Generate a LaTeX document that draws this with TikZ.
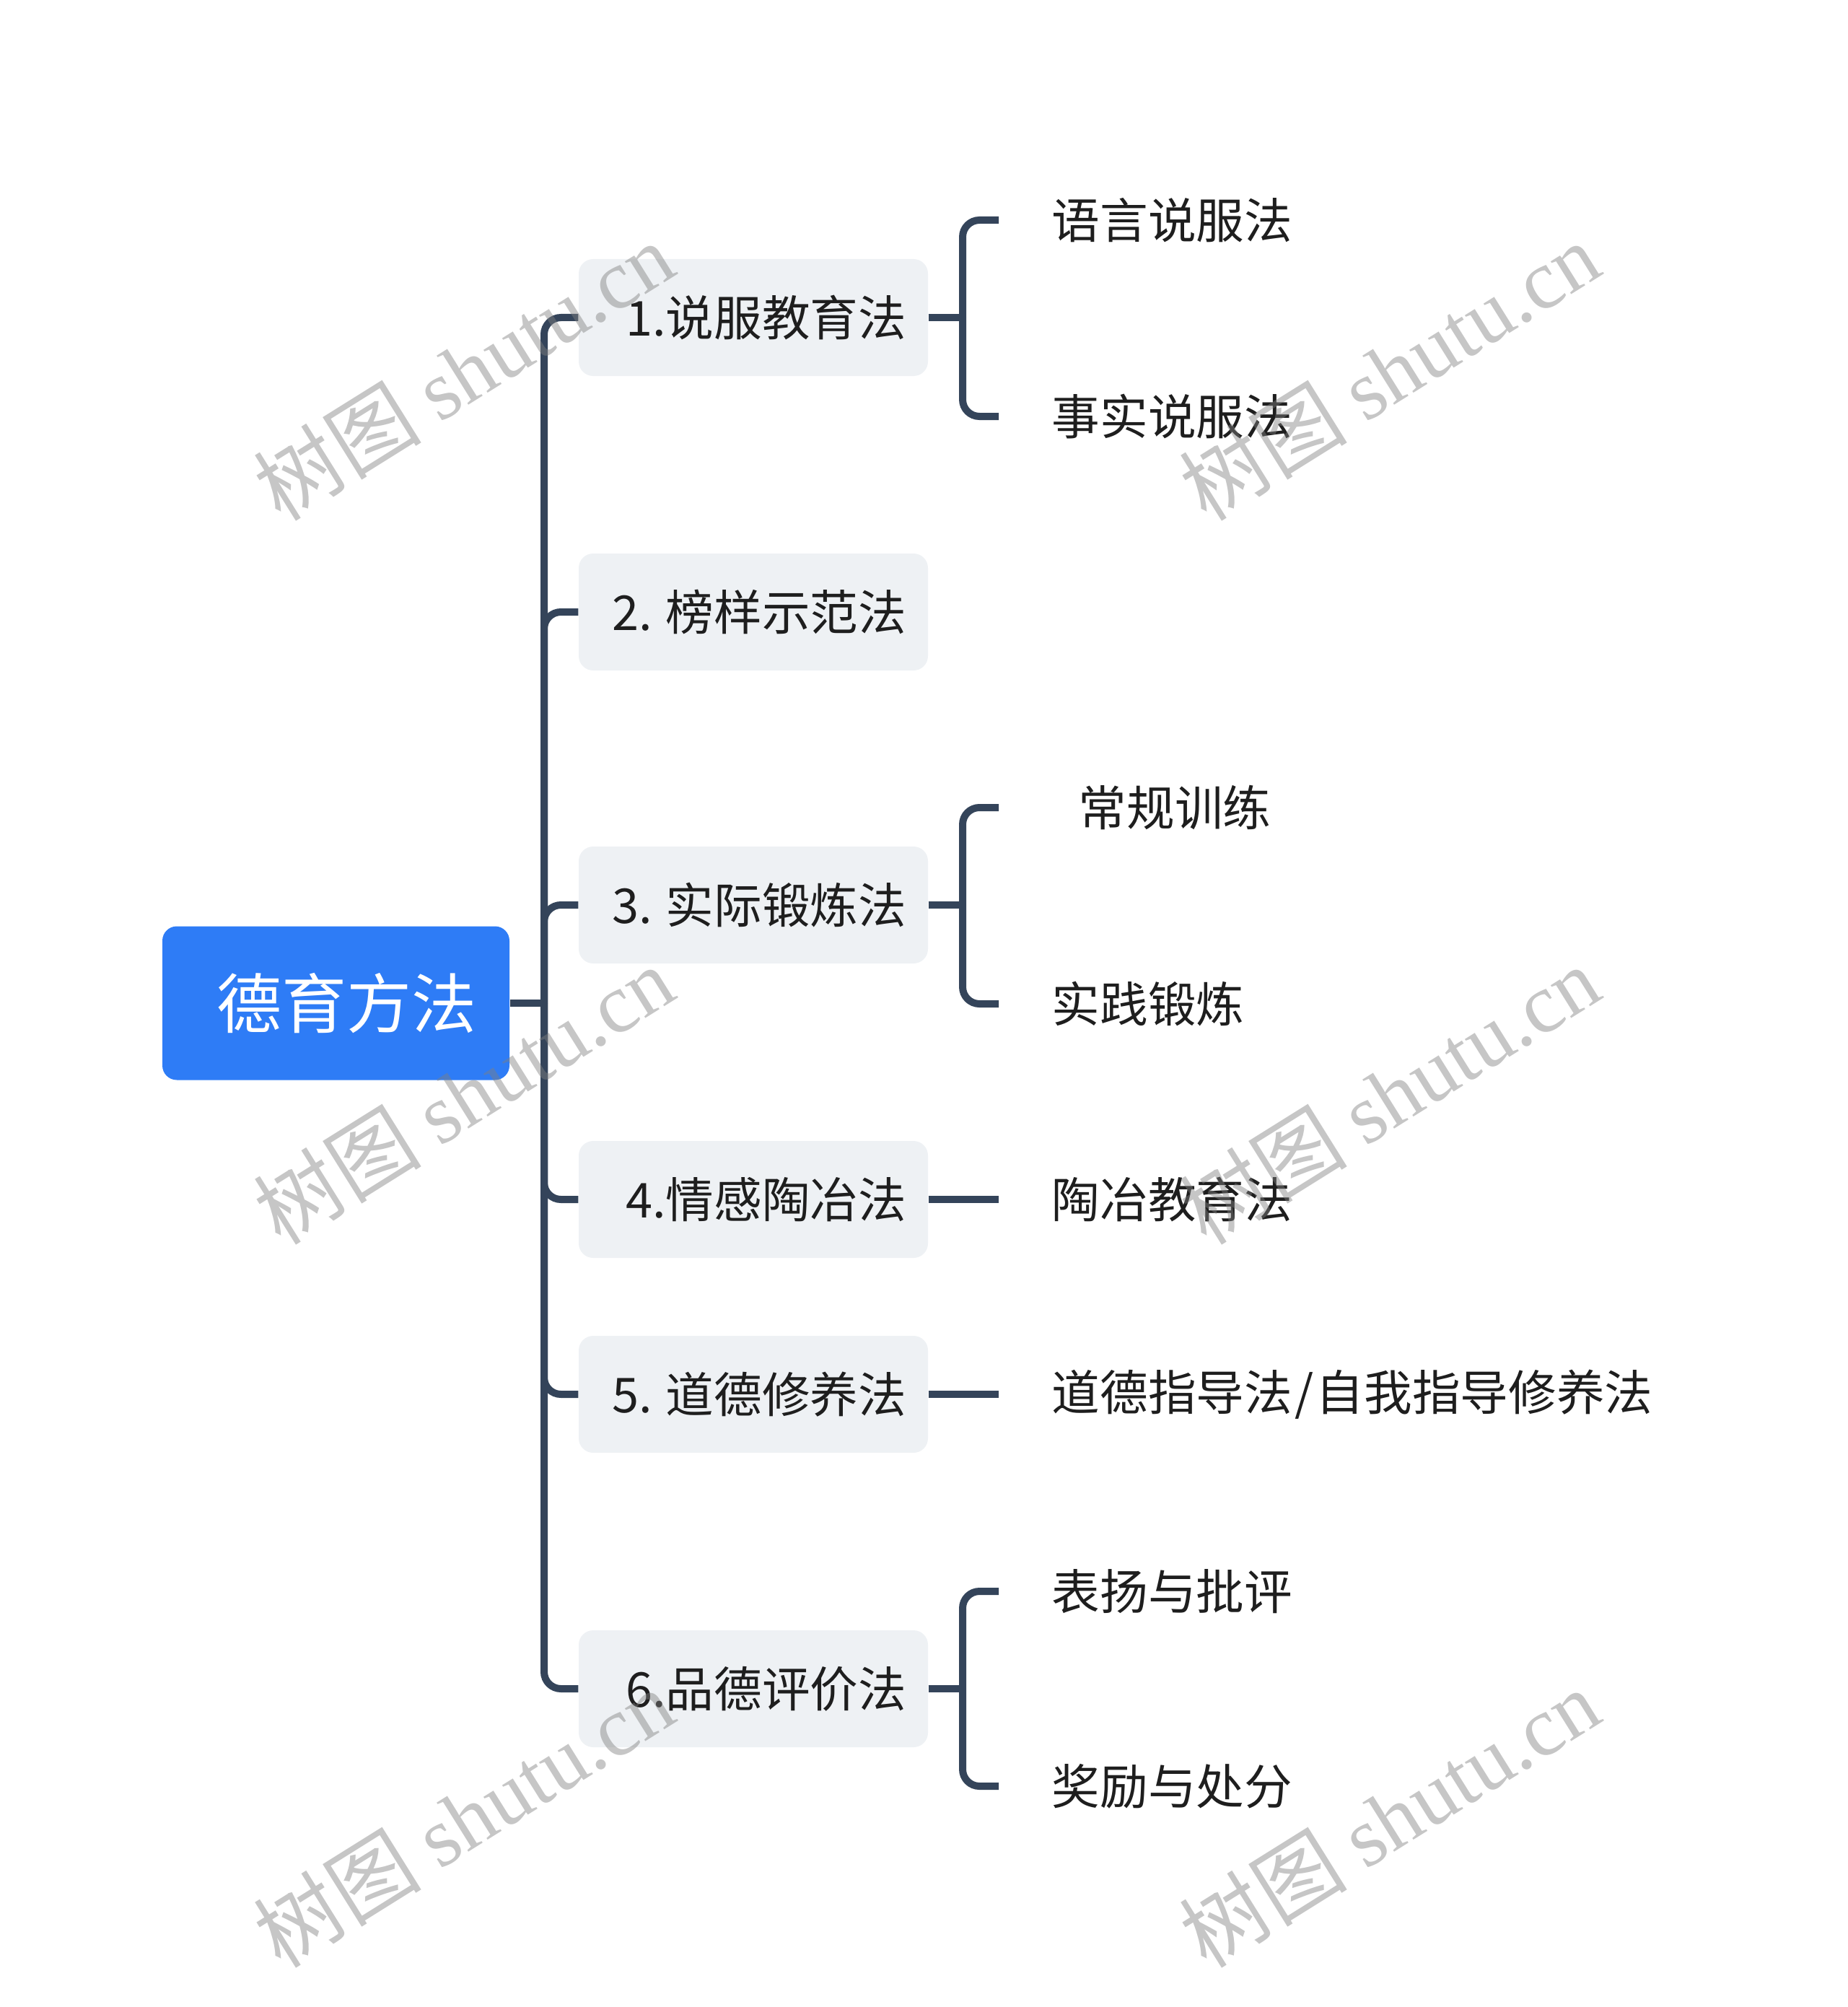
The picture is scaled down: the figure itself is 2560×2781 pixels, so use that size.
\documentclass[tikz,border=0pt]{standalone}
\usepackage{fontspec}
\setmainfont{Noto Sans CJK SC}
\newfontfamily\wmlatin{Liberation Serif}
\newfontfamily\wmcjk{Noto Sans CJK SC}
\definecolor{rootblue}{RGB}{46,124,246}
\definecolor{boxgray}{RGB}{238,241,244}
\definecolor{linec}{RGB}{52,68,90}
\definecolor{textc}{RGB}{30,30,30}
\begin{document}
\begin{tikzpicture}[x=0.3pt,y=-0.3pt,
  conn/.style={draw=linec, line width=3pt},
  elbow/.style={conn, rounded corners=7pt},
  rootbox/.style={fill=rootblue, rounded corners=6pt, minimum height=63.9pt,
    text width=116.7pt, inner xsep=13.8pt, inner ysep=0pt, align=right,
    font=\fontsize{27pt}{32pt}\selectfont, text=white},
  lvbox/.style={fill=boxgray, rounded corners=6pt, minimum height=48.6pt,
    text width=127.2pt, inner xsep=9pt, inner ysep=0pt, align=right,
    font=\fontsize{20pt}{24pt}\selectfont, text=textc},
  leaf/.style={anchor=west, inner xsep=21.9pt, inner ysep=0pt,
    font=\fontsize{20pt}{24pt}\selectfont, text=textc},
  wm/.style={rotate=32, text=gray, opacity=0.45, font=\fontsize{35pt}{40pt}\selectfont}
]
\useasboundingbox (0,0) rectangle (2560,2781);

% root
\node[rootbox] (root) at (465.5,1390) {德育方法};
\coordinate (sp) at (754,1390);

% level 1
\node[lvbox] (b1) at (1044,440) {1.说服教育法};
\node[lvbox] (b2) at (1044,848) {2.\hspace{5.5pt}榜样示范法};
\node[lvbox] (b3) at (1044,1254) {3.\hspace{5.5pt}实际锻炼法};
\node[lvbox] (b4) at (1044,1662) {4.情感陶冶法};
\node[lvbox] (b5) at (1044,1932) {5.\hspace{5.5pt}道德修养法};
\node[lvbox] (b6) at (1044,2340) {6.品德评价法};

% brackets
\coordinate (k1) at (1334,440);
\coordinate (k3) at (1334,1254);
\coordinate (k6) at (1334,2340);

% leaves
\node[leaf] (l11) at (1384,305) {语言说服法};
\node[leaf] (l12) at (1384,577) {事实说服法};
\node[leaf] (l31) at (1384,1119) {\hspace*{11.1pt}常规训练};
\node[leaf] (l32) at (1384,1391) {实践锻炼};
\node[leaf] (l41) at (1384,1662) {陶冶教育法};
\node[leaf] (l51) at (1384,1932) {道德指导法\hspace{1pt}/\hspace{1pt}自我指导修养法};
\node[leaf] (l61) at (1384,2205) {表扬与批评};
\node[leaf] (l62) at (1384,2475) {奖励与处分};

% connectors root -> level 1
\draw[conn] (root.east) -- (sp);
\foreach \b in {b1,b2,b3,b4,b5,b6}
  \draw[elbow] (sp) |- (\b.west);

% level 1 -> leaves
\draw[conn] (b1.east) -- (k1);
\draw[elbow] (k1) |- (l11.west);
\draw[elbow] (k1) |- (l12.west);
\draw[conn] (b3.east) -- (k3);
\draw[elbow] (k3) |- (l31.west);
\draw[elbow] (k3) |- (l32.west);
\draw[conn] (b4.east) -- (l41.west);
\draw[conn] (b5.east) -- (l51.west);
\draw[conn] (b6.east) -- (k6);
\draw[elbow] (k6) |- (l61.west);
\draw[elbow] (k6) |- (l62.west);

% watermarks
\node[wm] (wm1) at (642,514) {{\wmcjk 树图} {\wmlatin shutu.cn}};
\node[wm] (wm2) at (1925,514) {{\wmcjk 树图} {\wmlatin shutu.cn}};
\node[wm] (wm3) at (642,1517) {{\wmcjk 树图} {\wmlatin shutu.cn}};
\node[wm] (wm4) at (1925,1517) {{\wmcjk 树图} {\wmlatin shutu.cn}};
\node[wm] (wm5) at (642,2519) {{\wmcjk 树图} {\wmlatin shutu.cn}};
\node[wm] (wm6) at (1925,2519) {{\wmcjk 树图} {\wmlatin shutu.cn}};
\end{tikzpicture}
\end{document}
